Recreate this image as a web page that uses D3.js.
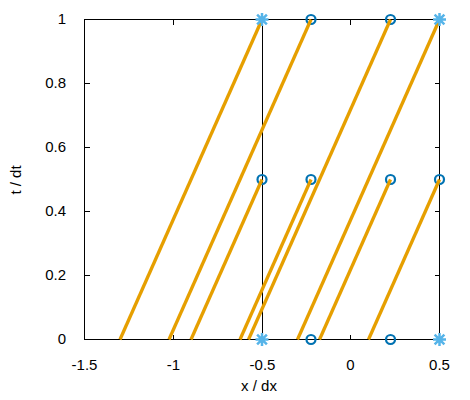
<!DOCTYPE html>
<html>
<head>
<meta charset="utf-8">
<script src="https://cdn.jsdelivr.net/npm/d3@7"></script>
<style>
  body { margin: 0; background: #fff; }
  text { font-family: "Liberation Sans", Arial, sans-serif; font-size: 15px; fill: #000; }
</style>
</head>
<body>
<div id="chart"></div>
<script>
// tick values
var xTicks = [-1.5, -1, -0.5, 0, 0.5];
var yTicks = [0, 0.2, 0.4, 0.6, 0.8, 1];

// boundary line positions
var boundaryX = [-0.5, 0.5];

// segments: start x at start t, end x at end t
var segX0 = [-1.3, -1.024, -0.576, -0.3, -0.9, -0.624, -0.176, 0.1];
var segT0 = [0, 0, 0, 0, 0, 0, 0, 0];
var segX1 = [-0.5, -0.224, 0.224, 0.5, -0.5, -0.224, 0.224, 0.5];
var segT1 = [1, 1, 1, 1, 0.5, 0.5, 0.5, 0.5];

// circle points
var circX = [-0.224, 0.224, -0.5, -0.224, 0.224, 0.5, -0.224, 0.224];
var circT = [0, 0, 0.5, 0.5, 0.5, 0.5, 1, 1];

// star points
var starX = [-0.5, 0.5, -0.5, 0.5];
var starT = [0, 0, 1, 1];

var W = 470, H = 400;
var mLeft = 84.5, mRight = 439.5, mTop = 19.5, mBottom = 339.5;

var svg = d3.select('#chart')
    .append('svg')
    .attr('width', W)
    .attr('height', H);

var x = d3.scaleLinear().domain([-1.5, 0.5]).range([mLeft, mRight]);
var y = d3.scaleLinear().domain([0, 1]).range([mBottom, mTop]);

var fmt = function(d) { return String(d); };
var px = function(v) { return Math.round(v - 0.5) + 0.5; };

// axes (gnuplot style: inward ticks, mirrored)
var tick = 5;
function clean(g) {
    g.select('.domain').remove();
    g.attr('font-size', 15).attr('font-family', '"Liberation Sans", Arial, sans-serif');
    g.selectAll('.tick').attr('transform', function() {
        var t = d3.select(this).attr('transform');
        return t.replace(/[-\d.]+/g, function(n) { return px(+n); });
    });
    g.selectAll('.tick line').attr('stroke', '#000');
    g.selectAll('.tick text').attr('fill', '#000');
}
svg.append('g')
    .attr('transform', 'translate(0,' + mBottom + ')')
    .call(d3.axisBottom(x).tickValues(xTicks).tickSize(-tick).tickPadding(19).tickFormat(fmt).offset(0))
    .call(clean);
svg.append('g')
    .attr('transform', 'translate(0,' + mTop + ')')
    .call(d3.axisTop(x).tickValues(xTicks).tickSize(-tick).tickFormat('').offset(0))
    .call(clean);
svg.append('g')
    .attr('transform', 'translate(' + mLeft + ',0)')
    .call(d3.axisLeft(y).tickValues(yTicks).tickSize(-tick).tickPadding(19).tickFormat(fmt).offset(0))
    .call(clean);
svg.append('g')
    .attr('transform', 'translate(' + mRight + ',0)')
    .call(d3.axisRight(y).tickValues(yTicks).tickSize(-tick).tickFormat('').offset(0))
    .call(clean);

// frame
svg.append('rect')
    .attr('x', mLeft).attr('y', mTop)
    .attr('width', mRight - mLeft).attr('height', mBottom - mTop)
    .attr('fill', 'none')
    .attr('stroke', '#000')
    .attr('stroke-width', 1);

// boundary lines
svg.selectAll('.bnd')
    .data(boundaryX)
    .enter()
    .append('line')
        .attr('x1', function(d) { return px(x(d)); })
        .attr('x2', function(d) { return px(x(d)); })
        .attr('y1', y(0))
        .attr('y2', y(1))
        .attr('stroke', '#000')
        .attr('stroke-width', 1);

// circles
svg.selectAll('.circ')
    .data(circX)
    .enter()
    .append('circle')
        .attr('cx', function(d) { return x(d); })
        .attr('cy', function(d, i) { return y(circT[i]); })
        .attr('r', 4.5)
        .attr('fill', 'none')
        .attr('stroke', '#0072b2')
        .attr('stroke-width', 2.2);

// segments
svg.selectAll('.seg')
    .data(segX0)
    .enter()
    .append('line')
        .attr('x1', function(d) { return x(d); })
        .attr('y1', function(d, i) { return y(segT0[i]); })
        .attr('x2', function(d, i) { return x(segX1[i]); })
        .attr('y2', function(d, i) { return y(segT1[i]); })
        .attr('stroke', '#e69f00')
        .attr('stroke-width', 3.3);

// stars
var s = 6.5;
svg.selectAll('.star')
    .data(starX)
    .enter()
    .append('path')
        .attr('transform', function(d, i) {
            return 'translate(' + x(d) + ',' + y(starT[i]) + ')';
        })
        .attr('d', 'M' + (-s) + ',0H' + s + 'M0,' + (-s) + 'V' + s +
                   'M' + (-s * 0.75) + ',' + (-s * 0.75) + 'L' + (s * 0.75) + ',' + (s * 0.75) +
                   'M' + (-s * 0.75) + ',' + (s * 0.75) + 'L' + (s * 0.75) + ',' + (-s * 0.75))
        .attr('stroke', '#56b4e9')
        .attr('stroke-width', 2.5)
        .attr('fill', 'none');

// axis labels
svg.append('text')
    .attr('x', 259)
    .attr('y', 391)
    .attr('text-anchor', 'middle')
    .text('x / dx');

svg.append('text')
    .attr('transform', 'translate(21,180) rotate(-90)')
    .attr('text-anchor', 'middle')
    .text('t / dt');
</script>
</body>
</html>
